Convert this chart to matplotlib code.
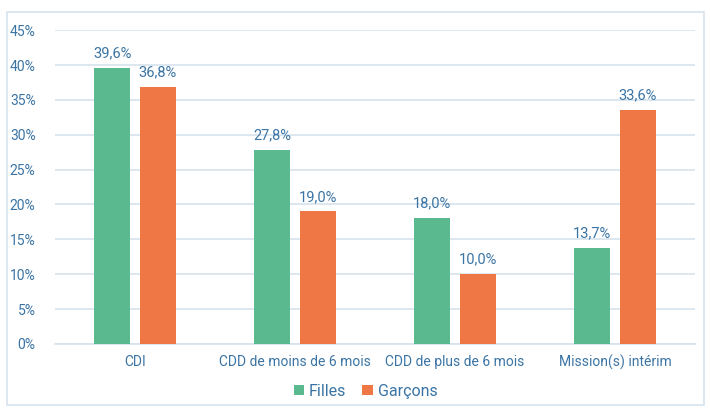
import matplotlib.pyplot as plt
import numpy as np
from matplotlib.patches import Rectangle
from matplotlib.ticker import FuncFormatter

plt.rcParams['font.family'] = ['Roboto', 'DejaVu Sans']

categories = ['CDI', 'CDD de moins de 6 mois', 'CDD de plus de 6 mois', 'Mission(s) intérim']
filles = [39.6, 27.8, 18.0, 13.7]
garcons = [36.8, 19.0, 10.0, 33.6]
series_names = ['Filles', 'Garçons']

green = '#5BB98F'
orange = '#EF7645'
text_col = '#3A74A4'
grid_col = '#D5E3EE'

fig = plt.figure(figsize=(7.1, 4.08), dpi=100)
ax = fig.add_axes([0.0775, 0.157, 0.9015, 0.769])

x = np.arange(len(categories))
w = 0.225
gap = 0.06
b1 = ax.bar(x - (w + gap) / 2, filles, w, color=green, label=series_names[0], zorder=3)
b2 = ax.bar(x + (w + gap) / 2, garcons, w, color=orange, label=series_names[1], zorder=3)

for bars, vals in ((b1, filles), (b2, garcons)):
    for rect, v in zip(bars, vals):
        ax.text(rect.get_x() + rect.get_width() / 2, v + 1.1,
                f'{v:.1f}%'.replace('.', ','), ha='center', va='bottom',
                fontsize=10.5, color=text_col)

ax.set_xlim(-0.5, len(categories) - 0.5)
ax.set_ylim(0, 45)
ax.set_yticks(np.arange(0, 46, 5))
ax.yaxis.set_major_formatter(FuncFormatter(lambda v, p: f'{v:.0f}%'))
ax.set_xticks(x)
ax.set_xticklabels(categories)
ax.tick_params(axis='both', length=0, colors=text_col, labelsize=10)
ax.tick_params(axis='y', pad=14)
ax.tick_params(axis='x', pad=8)
ax.grid(axis='y', color=grid_col, linewidth=1.2, zorder=0)
for s in ['top', 'right', 'left']:
    ax.spines[s].set_visible(False)
ax.spines['bottom'].set_color(grid_col)
ax.spines['bottom'].set_linewidth(1.2)

leg = fig.legend(loc='lower center', bbox_to_anchor=(0.515, -0.012), ncol=2,
                 frameon=False, fontsize=11.5, handlelength=0.65, handleheight=0.65,
                 handletextpad=0.3, columnspacing=1.0)
for t in leg.get_texts():
    t.set_color(text_col)

fig.patches.append(Rectangle((0.01, 0.008), 0.982, 0.963, transform=fig.transFigure,
                             fill=False, edgecolor=grid_col, linewidth=1.2))

fig.savefig('out.png', dpi=100)
